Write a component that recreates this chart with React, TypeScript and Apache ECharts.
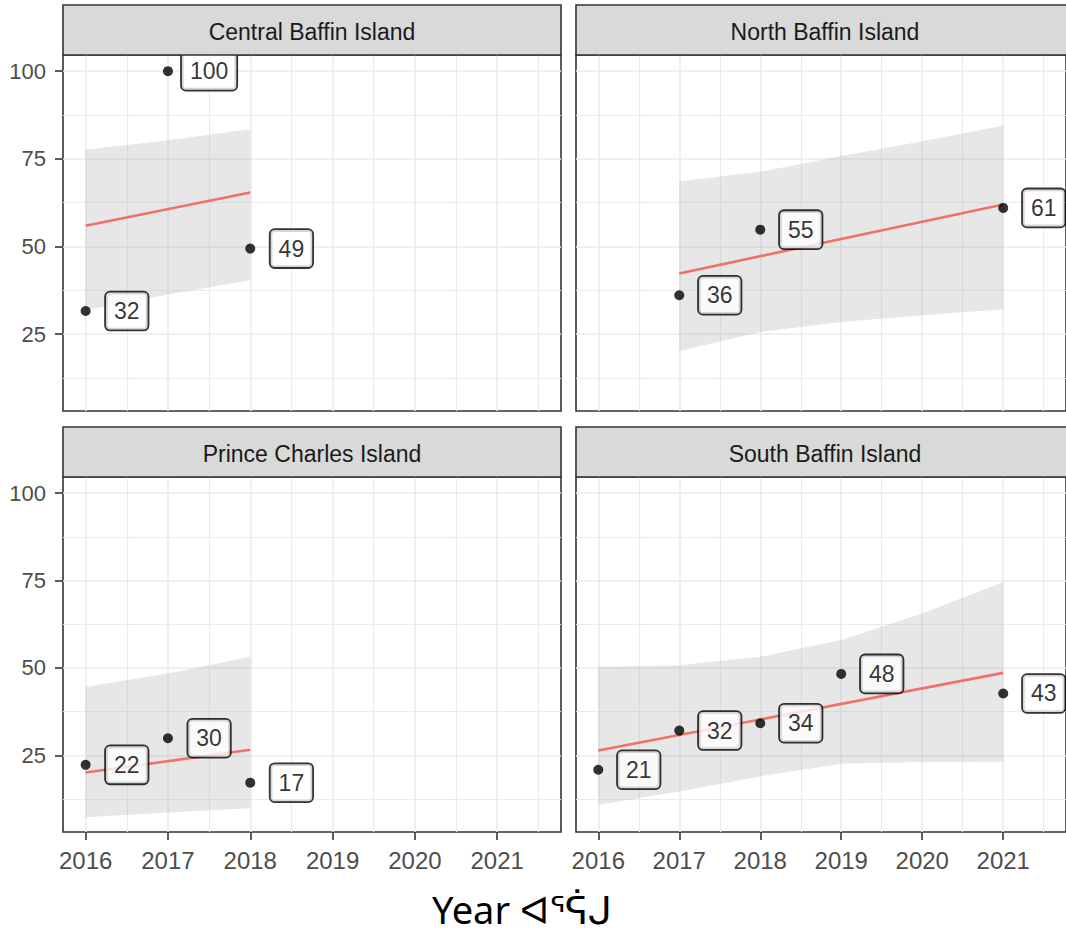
import React, { useEffect, useRef } from "react";
import * as echarts from "echarts";

// ---- tick / grid values ----
const X_TICKS = [2016, 2017, 2018, 2019, 2020, 2021];
const X_MINOR = [2016.5, 2017.5, 2018.5, 2019.5, 2020.5, 2021.5];
const Y_TICKS = [25, 50, 75, 100];
const Y_MINOR = [12.5, 37.5, 62.5, 87.5];
const X_MIN = 2015.725;
const X_MAX = 2021.775;
const Y_MIN = 3.1;
const Y_MAX = 104.6;
const LABEL_NUDGE = 0.5;

// ---- panel names ----
const regions = ["Central Baffin Island", "North Baffin Island", "Prince Charles Island", "South Baffin Island"];

// ---- Central Baffin Island ----
const centralYears = [2016, 2017, 2018];
const centralValues = [31.6, 100, 49.4];
const centralFitYears = [2016, 2018];
const centralFit = [55.9, 65.4];
const centralBandYears = [2016, 2017, 2018];
const centralBandLow = [31.8, 36.3, 40.4];
const centralBandHigh = [77.6, 80.3, 83.4];

// ---- North Baffin Island ----
const northYears = [2017, 2018, 2021];
const northValues = [36.1, 54.8, 61.0];
const northFitYears = [2017, 2021];
const northFit = [42.3, 62.0];
const northBandYears = [2017, 2018, 2019, 2020, 2021];
const northBandLow = [20.1, 25.6, 28.5, 30.4, 32.1];
const northBandHigh = [68.6, 71.3, 75.8, 80.0, 84.4];

// ---- Prince Charles Island ----
const princeYears = [2016, 2017, 2018];
const princeValues = [22.3, 29.9, 17.2];
const princeFitYears = [2016, 2018];
const princeFit = [20.1, 26.6];
const princeBandYears = [2016, 2017, 2018];
const princeBandLow = [7.3, 8.7, 9.9];
const princeBandHigh = [44.6, 48.4, 53.2];

// ---- South Baffin Island ----
const southYears = [2016, 2017, 2018, 2019, 2021];
const southValues = [20.9, 32.1, 34.2, 48.3, 42.7];
const southFitYears = [2016, 2021];
const southFit = [26.4, 48.6];
const southBandYears = [2016, 2017, 2018, 2019, 2020, 2021];
const southBandLow = [10.9, 14.7, 19.0, 22.6, 23.1, 23.2];
const southBandHigh = [50.3, 50.8, 53.2, 58.0, 65.6, 74.6];

const panelsData = [
  { years: centralYears, values: centralValues, fitYears: centralFitYears, fit: centralFit, bandYears: centralBandYears, low: centralBandLow, high: centralBandHigh },
  { years: northYears, values: northValues, fitYears: northFitYears, fit: northFit, bandYears: northBandYears, low: northBandLow, high: northBandHigh },
  { years: princeYears, values: princeValues, fitYears: princeFitYears, fit: princeFit, bandYears: princeBandYears, low: princeBandLow, high: princeBandHigh },
  { years: southYears, values: southValues, fitYears: southFitYears, fit: southFit, bandYears: southBandYears, low: southBandLow, high: southBandHigh },
];

const FONT = "Liberation Sans, Arial, sans-serif";
const PANEL_W = 498;
const LEFT_X = [63, 576];
const STRIP_TOP = [5, 427];
const STRIP_H = 50;
const PANEL_H = [356, 355];

export default function App() {
  const ref = useRef<HTMLDivElement>(null);

  useEffect(() => {
    if (!ref.current) return;
    const chart = echarts.init(ref.current, null, { renderer: "svg" });

    const grids: any[] = [];
    const xAxes: any[] = [];
    const yAxes: any[] = [];
    const series: any[] = [];
    const graphics: any[] = [];

    panelsData.forEach((p, i) => {
      const row = Math.floor(i / 2);
      const col = i % 2;
      const left = LEFT_X[col];
      const top = STRIP_TOP[row] + STRIP_H;
      const bottomRow = row === 1;
      const leftCol = col === 0;

      grids.push({
        left,
        top,
        width: PANEL_W,
        height: PANEL_H[row],
        show: true,
        borderColor: "#333333",
        borderWidth: 1.6,
        backgroundColor: "transparent",
        containLabel: false,
      });

      xAxes.push({
        gridIndex: i,
        type: "value",
        min: X_MIN,
        max: X_MAX,
        axisLine: { show: false },
        splitLine: { show: false },
        axisTick: {
          show: bottomRow,
          customValues: X_TICKS,
          length: 8,
          lineStyle: { color: "#333333", width: 1.6 },
        },
        axisLabel: {
          show: bottomRow,
          customValues: X_TICKS,
          margin: 16,
          fontSize: 24,
          color: "#4D4D4D",
          fontFamily: FONT,
          formatter: (v: number) => String(Math.round(v)),
        },
      });

      yAxes.push({
        gridIndex: i,
        type: "value",
        min: Y_MIN,
        max: Y_MAX,
        axisLine: { show: false },
        splitLine: { show: false },
        axisTick: {
          show: leftCol,
          customValues: Y_TICKS,
          length: 8,
          lineStyle: { color: "#333333", width: 1.6 },
        },
        axisLabel: {
          show: leftCol,
          customValues: Y_TICKS,
          margin: 17,
          fontSize: 22,
          color: "#4D4D4D",
          fontFamily: FONT,
        },
      });

      // grid lines through the axis scales
      const gridLines: any[] = [];
      X_TICKS.forEach((v) => gridLines.push({ xAxis: v, lineStyle: { width: 1.6 } }));
      X_MINOR.forEach((v) => gridLines.push({ xAxis: v, lineStyle: { width: 1.1 } }));
      Y_TICKS.forEach((v) => gridLines.push({ yAxis: v, lineStyle: { width: 1.6 } }));
      Y_MINOR.forEach((v) => gridLines.push({ yAxis: v, lineStyle: { width: 1.1 } }));
      series.push({
        type: "line",
        xAxisIndex: i,
        yAxisIndex: i,
        data: [],
        z: 1,
        silent: true,
        markLine: {
          silent: true,
          z: 1,
          symbol: ["none", "none"],
          label: { show: false },
          lineStyle: { color: "#EBEBEB", type: "solid", width: 1.6 },
          data: gridLines,
        },
      });

      // confidence ribbon
      const bandRows = p.bandYears.map((y, k) => [y, p.low[k], p.high[k]]);
      series.push({
        type: "custom",
        xAxisIndex: i,
        yAxisIndex: i,
        z: 2,
        silent: true,
        data: bandRows,
        encode: { x: 0, y: [1, 2] },
        renderItem: (params: any, api: any) => {
          if (params.dataIndex !== 0) return null;
          const pts: number[][] = [];
          for (let k = 0; k < bandRows.length; k++) pts.push(api.coord([bandRows[k][0], bandRows[k][2]]));
          for (let k = bandRows.length - 1; k >= 0; k--) pts.push(api.coord([bandRows[k][0], bandRows[k][1]]));
          return {
            type: "polygon",
            shape: { points: pts },
            style: { fill: "#999999", opacity: 0.24 },
          };
        },
      });

      // fitted line
      series.push({
        type: "line",
        xAxisIndex: i,
        yAxisIndex: i,
        z: 3,
        silent: true,
        showSymbol: false,
        data: p.fitYears.map((y, k) => [y, p.fit[k]]),
        lineStyle: { color: "#F0716A", width: 2.6 },
      });

      // points
      series.push({
        type: "scatter",
        xAxisIndex: i,
        yAxisIndex: i,
        z: 4,
        silent: true,
        symbolSize: 10,
        itemStyle: { color: "#000000" },
        data: p.years.map((y, k) => [y, p.values[k]]),
      });

      // value labels
      series.push({
        type: "scatter",
        xAxisIndex: i,
        yAxisIndex: i,
        z: 5,
        silent: true,
        symbolSize: 1,
        itemStyle: { color: "transparent" },
        data: p.years.map((y, k) => [y + LABEL_NUDGE, p.values[k], String(Math.round(p.values[k]))]),
        label: {
          show: true,
          position: "inside",
          formatter: (prm: any) => prm.value[2],
          fontSize: 23,
          lineHeight: 23,
          fontFamily: FONT,
          color: "#000000",
          backgroundColor: "#FFFFFF",
          borderColor: "#000000",
          borderWidth: 1.8,
          borderRadius: 4,
          padding: [7, 8, 7, 8],
        },
      });

      // strip
      const stripTop = STRIP_TOP[row];
      graphics.push({
        type: "rect",
        shape: { x: left, y: stripTop, width: PANEL_W, height: STRIP_H },
        style: { fill: "#D9D9D9", stroke: "#333333", lineWidth: 1.6 },
        z: 10,
      });
      graphics.push({
        type: "text",
        x: left + PANEL_W / 2,
        y: stripTop + STRIP_H / 2 + 2,
        style: {
          text: regions[i],
          fill: "#1A1A1A",
          fontSize: 23,
          fontFamily: FONT,
          align: "center",
          verticalAlign: "middle",
        },
        z: 11,
      });
    });

    graphics.push({
      type: "text",
      x: 522,
      y: 909,
      style: {
        text: "Year ᐊᕐᕌᒍ",
        fill: "#000000",
        fontSize: 38,
        fontFamily: "Noto Sans, DejaVu Sans, sans-serif",
        align: "center",
        verticalAlign: "middle",
      },
      z: 11,
    });

    chart.setOption({
      animation: false,
      backgroundColor: "#FFFFFF",
      grid: grids,
      xAxis: xAxes,
      yAxis: yAxes,
      series,
      graphic: graphics,
    });

    return () => chart.dispose();
  }, []);

  return (
    <div
      ref={ref}
      style={{ position: "absolute", left: 0, top: 0, width: 1066, height: 939, overflow: "hidden" }}
    />
  );
}
